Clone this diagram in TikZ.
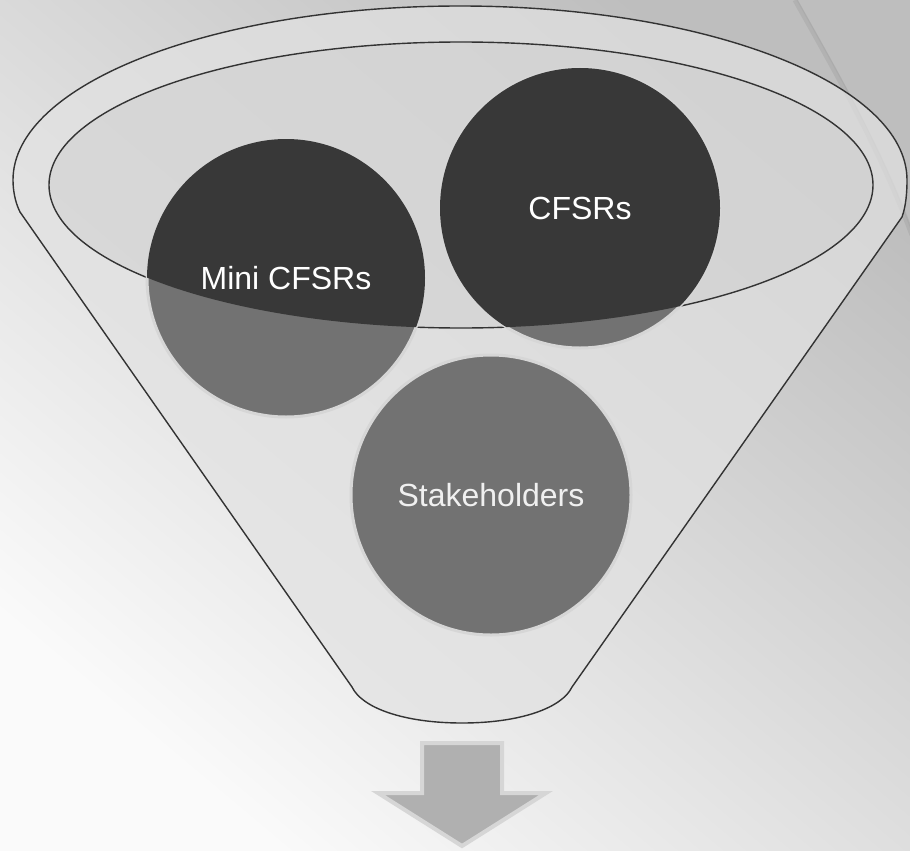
\documentclass[tikz,border=0pt]{standalone}
\usepackage{fontspec}
\setmainfont{Liberation Sans}
\usepackage{tikz}
\usetikzlibrary{positioning}
\usepackage{xcolor}
\definecolor{fnlline}{RGB}{51,51,51}
\definecolor{fnlfill}{RGB}{226,226,226}
\definecolor{fnlrim}{RGB}{205,205,205}
\definecolor{fnldark}{RGB}{56,56,56}
\definecolor{fnlgray}{RGB}{114,114,114}
\definecolor{fnledge}{RGB}{214,214,214}
\definecolor{bglight}{RGB}{250,250,250}
\definecolor{bgdark}{RGB}{190,190,190}
\definecolor{arrowgray}{RGB}{176,176,176}
\tikzstyle{funnel} = [draw=fnlline, line width=1.4pt, fill=fnlfill, fill opacity=0.7]
\tikzstyle{rim} = [draw=fnlline, line width=1.4pt, fill=fnlrim, fill opacity=0.45]
\tikzstyle{ball} = [draw=fnledge, line width=3pt, fill=fnlgray]
\tikzstyle{label} = [circle, minimum size=280pt, text=white, font=\fontsize{32}{38}\selectfont]
\tikzstyle{downarrow} = [draw=fnledge, line width=4pt, fill=arrowgray, line join=miter]

\begin{document}
\begin{tikzpicture}[x=1pt, y=-1pt]
% Background
\shade[top color=bgdark, bottom color=bglight, shading angle=-40] (0,0) rectangle (910,851);
\useasboundingbox (0,0) rectangle (910,851);
\draw[line width=5pt, black, opacity=0.06] (795,0) .. controls (840,80) and (880,150) .. (912,235);
\draw[line width=1pt, gray!70, opacity=0.5] (797,0) .. controls (842,80) and (882,150) .. (912,232);

% Funnel
\path[funnel] (352,687) -- (20,212) .. controls (15,202) and (13,190) .. (13,180)
  arc[start angle=180, end angle=360, x radius=447, y radius=174]
  .. controls (907,192) and (906,206) .. (902,217) -- (572,687)
  .. controls (562,708) and (520,723) .. (462,723)
  .. controls (404,723) and (362,708) .. (352,687) -- cycle;
\path[rim] (461,185) ellipse [x radius=412, y radius=143];

% Circles
\coordinate (minic) at (286,278);
\coordinate (cfsrc) at (580,208);
\coordinate (stakec) at (491,495);
\path[ball] (minic) circle (139);
\path[ball] (cfsrc) circle (140);
\path[ball] (stakec) circle (140);
\begin{scope}
\clip (461,185) ellipse [x radius=412, y radius=143];
\fill[fnldark] (minic) circle (139);
\fill[fnldark] (cfsrc) circle (140);
\end{scope}
\node[label] (mini) at (minic) {Mini CFSRs};
\node[label] (cfsr) at (cfsrc) {CFSRs};
\node[label, text=white!94!black] (stake) at (stakec) {Stakeholders};

% Arrow
\path[downarrow] (422,743) -- (502,743) -- (502,793) -- (546,793) -- (462,846)
  -- (378,793) -- (422,793) -- cycle;
\end{tikzpicture}
\end{document}
